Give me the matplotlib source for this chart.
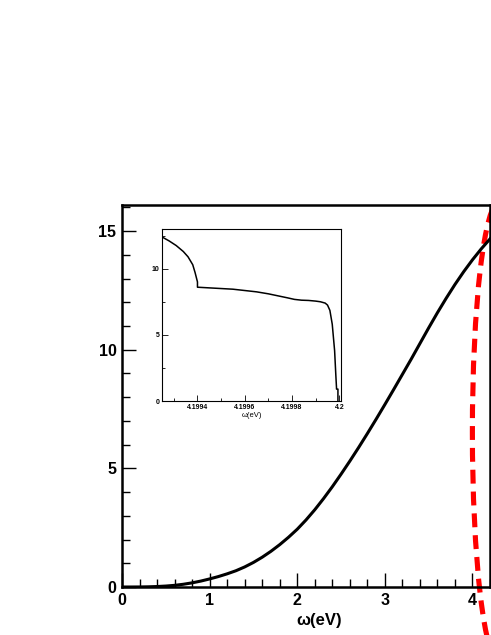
# Recreation of the omega(eV) spectrum plot with zoomed inset near 4.2 eV

import matplotlib
matplotlib.use('Agg')
import matplotlib.pyplot as plt
from matplotlib.patches import Ellipse
from matplotlib.ticker import MultipleLocator

plt.rcParams['font.family'] = ['Liberation Sans', 'DejaVu Sans']

# Main curve
omega = [0.0, 0.1, 0.2, 0.3, 0.4, 0.5, 0.6, 0.7, 0.8, 0.9, 1.0, 1.1, 1.2, 1.3,
         1.4, 1.5, 1.6, 1.7, 1.8, 1.9, 2.0, 2.1, 2.2, 2.3, 2.4, 2.5, 2.6, 2.7,
         2.8, 2.9, 3.0, 3.1, 3.2, 3.3, 3.4, 3.5, 3.6, 3.7, 3.8, 3.9, 4.0, 4.1, 4.2]
signal = [0.0, 0.0, 0.002, 0.008, 0.02, 0.04, 0.07, 0.115, 0.175, 0.25, 0.34,
          0.44, 0.555, 0.685, 0.845, 1.035, 1.255, 1.505, 1.785, 2.095, 2.435,
          2.825, 3.255, 3.725, 4.225, 4.755, 5.305, 5.875, 6.465, 7.07, 7.69,
          8.32, 8.96, 9.60, 10.26, 10.92, 11.56, 12.17, 12.75, 13.29, 13.79,
          14.25, 14.67]

# Inset curve near the edge
omega_zoom = [4.19925, 4.19928, 4.19931, 4.19934, 4.19936, 4.19938, 4.19939,
              4.19940, 4.19940, 4.19945, 4.19950, 4.19955, 4.19960, 4.19965,
              4.19970, 4.19974, 4.19978, 4.19981, 4.19984, 4.19987, 4.19990,
              4.19992, 4.19994, 4.19995, 4.19996, 4.19997, 4.19998, 4.199985,
              4.199988, 4.199988, 4.199994, 4.199994]
signal_zoom = [12.4, 12.1, 11.75, 11.3, 10.9, 10.3, 9.7, 9.0, 8.6, 8.55, 8.5,
               8.45, 8.35, 8.25, 8.1, 7.95, 7.8, 7.68, 7.62, 7.6, 7.55, 7.5,
               7.4, 7.25, 6.85, 5.8, 3.8, 2.0, 1.0, 0.9, 0.9, 0.0]

W, H = 491, 635
fig = plt.figure(figsize=(W / 100, H / 100), dpi=100)

ax = fig.add_axes([122 / W, (H - 587) / H, (490 - 122) / W, (587 - 205) / H])
ax.plot(omega, signal, color='black', lw=2.2)
ax.set_xlim(0, 4.2)
ax.set_ylim(0, 16.1)
ax.xaxis.set_major_locator(MultipleLocator(1))
ax.xaxis.set_minor_locator(MultipleLocator(0.2))
ax.yaxis.set_major_locator(MultipleLocator(5))
ax.yaxis.set_minor_locator(MultipleLocator(1))
ax.tick_params(which='both', direction='in', width=1, labelsize=11.5, pad=4)
ax.tick_params(which='major', length=10)
ax.tick_params(which='minor', length=6)
for lab in ax.get_xticklabels() + ax.get_yticklabels():
    lab.set_fontweight('bold')
for s in ax.spines.values():
    s.set_linewidth(1.8)
ax.set_xlabel('ω(eV)', fontsize=12, fontweight='bold')
ax.xaxis.set_label_coords(0.535, -0.087)
ax.xaxis.label.set_va('center')

# red dashed ellipse marking the region near the edge
ell = Ellipse((4.307, 6.53), 0.616, 19.4, fill=False, edgecolor='#ff0000',
              lw=3.7, ls=(0, (2.7, 1.55)), clip_on=False)
ax.add_patch(ell)

# inset
ins = fig.add_axes([162 / W, (H - 401) / H, (341 - 162) / W, (401 - 229) / H])
ins.plot(omega_zoom, signal_zoom, color='black', lw=1.1)
ins.set_xlim(4.19925, 4.200007)
ins.set_ylim(0, 13)
ins.set_xticks([4.1994, 4.1996, 4.1998, 4.2])
ins.set_xticklabels(['4.1994', '4.1996', '4.1998', '4.2'])
ins.xaxis.set_minor_locator(MultipleLocator(0.0001))
ins.yaxis.set_major_locator(MultipleLocator(5))
ins.yaxis.set_minor_locator(MultipleLocator(2.5))
ins.tick_params(which='both', direction='in', width=0.6, labelsize=5, pad=2)
ins.tick_params(which='major', length=4)
ins.tick_params(which='minor', length=2.5)
for lab in ins.get_xticklabels() + ins.get_yticklabels():
    lab.set_fontweight('bold')
for s in ins.spines.values():
    s.set_linewidth(0.8)
ins.set_xlabel('ω(eV)', fontsize=5.5, labelpad=1)

fig.savefig('out.png', dpi=100)
